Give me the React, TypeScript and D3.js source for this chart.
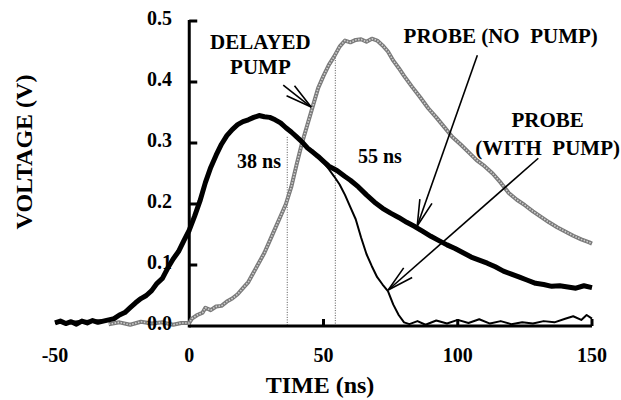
import React from "react";
import * as d3 from "d3";

const xTicks = [-50, 0, 50, 100, 150];
const yTicks = [0.0, 0.1, 0.2, 0.3, 0.4, 0.5];

// Probe (no pump) – thick black trace [time ns, voltage V]
const probeNoPump: [number, number][] = [
  [-50, 0.005], [-48, 0.008], [-46, 0.004], [-44, 0.007], [-42, 0.003], [-40, 0.008], [-38, 0.005],
  [-36, 0.009], [-34, 0.006], [-32, 0.008], [-30, 0.01], [-28, 0.012], [-26, 0.018], [-24, 0.022],
  [-22, 0.03], [-20, 0.038], [-18, 0.045], [-16, 0.05], [-14, 0.058], [-12, 0.07], [-10, 0.078],
  [-8, 0.095], [-6, 0.11], [-4, 0.122], [-2, 0.14], [0, 0.157], [2, 0.18], [4, 0.205], [6, 0.235],
  [8, 0.26], [10, 0.28], [12, 0.298], [14, 0.312], [16, 0.322], [18, 0.33], [20, 0.335], [22, 0.338],
  [24, 0.342], [26, 0.345], [28, 0.343], [30, 0.342], [32, 0.338], [34, 0.333], [36, 0.325],
  [38, 0.318], [40, 0.31], [42, 0.302], [44, 0.292], [46, 0.285], [48, 0.278], [50, 0.27],
  [52, 0.262], [55, 0.255], [58, 0.245], [60, 0.239], [63, 0.228], [66, 0.215], [69, 0.203],
  [72, 0.193], [75, 0.185], [78, 0.178], [81, 0.17], [84, 0.163], [87, 0.155], [90, 0.147],
  [93, 0.14], [96, 0.133], [99, 0.127], [102, 0.12], [105, 0.113], [108, 0.108], [111, 0.103],
  [114, 0.097], [117, 0.09], [120, 0.085], [123, 0.08], [126, 0.075], [129, 0.07], [132, 0.068],
  [135, 0.065], [138, 0.066], [141, 0.064], [144, 0.062], [147, 0.066], [150, 0.063],
];

// Probe (with pump) – thin black trace
const probeWithPump: [number, number][] = [
  [-50, 0.005], [-40, 0.008], [-30, 0.01], [-26, 0.018], [-22, 0.03], [-18, 0.045], [-14, 0.058],
  [-10, 0.078], [-6, 0.11], [-2, 0.14], [0, 0.157], [4, 0.205], [8, 0.26], [12, 0.298], [16, 0.322],
  [20, 0.335], [24, 0.342], [28, 0.343], [32, 0.338], [36, 0.325], [40, 0.31], [44, 0.292],
  [46, 0.288], [48, 0.278], [50, 0.268], [52, 0.257], [54, 0.245], [56, 0.232], [58, 0.215],
  [60, 0.195], [62, 0.175], [64, 0.145], [66, 0.118], [68, 0.098], [70, 0.08], [72, 0.068],
  [74, 0.057], [76, 0.035], [78, 0.018], [80, 0.006], [82, 0.003], [85, 0.008], [88, 0.002],
  [92, 0.009], [96, 0.004], [100, 0.01], [104, 0.005], [108, 0.011], [112, 0.004], [116, 0.008],
  [120, 0.003], [124, 0.006], [128, 0.004], [132, 0.008], [136, 0.006], [140, 0.012], [143, 0.016],
  [146, 0.01], [148, 0.018], [150, 0.012],
];

// Delayed pump – gray trace
const delayedPump: [number, number][] = [
  [-30, 0.003], [-26, 0.006], [-22, 0.002], [-18, 0.007], [-14, 0.004], [-10, 0.006], [-6, 0.002],
  [-3, 0.005], [0, 0.005], [1, 0.012], [3, 0.018], [5, 0.022], [6, 0.03], [8, 0.026], [10, 0.032],
  [12, 0.033], [14, 0.04], [16, 0.045], [18, 0.052], [20, 0.062], [22, 0.072], [24, 0.088],
  [26, 0.104], [28, 0.12], [30, 0.14], [32, 0.16], [34, 0.18], [36, 0.2], [38, 0.228], [40, 0.265],
  [42, 0.3], [44, 0.33], [46, 0.36], [48, 0.39], [50, 0.41], [52, 0.428], [54, 0.442], [56, 0.458],
  [58, 0.468], [60, 0.465], [62, 0.469], [64, 0.47], [66, 0.466], [68, 0.471], [70, 0.468],
  [72, 0.46], [74, 0.45], [76, 0.435], [78, 0.423], [80, 0.41], [83, 0.392], [86, 0.375],
  [89, 0.357], [92, 0.342], [95, 0.326], [98, 0.31], [101, 0.298], [104, 0.285], [107, 0.272],
  [110, 0.262], [113, 0.25], [116, 0.235], [119, 0.218], [122, 0.207], [125, 0.198], [128, 0.188],
  [131, 0.179], [134, 0.17], [137, 0.162], [140, 0.155], [143, 0.148], [146, 0.142], [149, 0.137],
  [150, 0.135],
];

// dotted markers: [time, top voltage, label]
const markerTimes = [36.5, 54.4];
const markerTops = [0.31, 0.44];
const markerLabels = ["38 ns", "55 ns"];
const markerLabelPos: [number, number][] = [[26, 0.259], [71, 0.267]];

// annotation labels and arrows in data coordinates
const annotationLines = ["DELAYED", "PUMP", "PROBE (NO  PUMP)", "PROBE", "(WITH  PUMP)"];
const annotationPos: [number, number][] = [[26.5, 0.454], [26.5, 0.413], [116, 0.464], [133.5, 0.326], [133.5, 0.28]];
const arrowFrom: [number, number][] = [[35, 0.395], [107.3, 0.444], [130, 0.275]];
const arrowTo: [number, number][] = [[45.4, 0.359], [84.9, 0.164], [74.1, 0.059]];

export default function App() {
  const W = 621, H = 400;
  const x = d3.scaleLinear().domain([-50, 150]).range([55, 592]);
  const y = d3.scaleLinear().domain([0, 0.5]).range([326, 21]);
  const line = d3.line<[number, number]>().x(d => x(d[0])).y(d => y(d[1])).curve(d3.curveLinear);
  const font = "Liberation Serif, DejaVu Serif, serif";

  const arrowHead = (from: [number, number], to: [number, number]) => {
    const x1 = x(from[0]), y1 = y(from[1]), x2 = x(to[0]), y2 = y(to[1]);
    const ang = Math.atan2(y2 - y1, x2 - x1);
    const len = 27, spread = 0.24;
    const a = [x2 - len * Math.cos(ang - spread), y2 - len * Math.sin(ang - spread)];
    const b = [x2 - len * Math.cos(ang + spread), y2 - len * Math.sin(ang + spread)];
    return `M${a[0]},${a[1]}L${x2},${y2}L${b[0]},${b[1]}`;
  };

  return (
    <svg width={W} height={H} style={{ position: "absolute", left: 0, top: 0, background: "#fff", fontFamily: font, fontWeight: 700 }}>
      {/* dotted markers */}
      {markerTimes.map((t, i) => (
        <line key={"m" + i} x1={x(t)} x2={x(t)} y1={y(markerTops[i])} y2={y(0)}
          stroke="#555" strokeWidth={1} strokeDasharray="1 1.5" />
      ))}
      {/* axes */}
      <line x1={x(0)} x2={x(0)} y1={y(0.5) - 1} y2={y(0) + 1.5} stroke="#000" strokeWidth={3} />
      <line x1={x(0)} x2={x(150)} y1={y(0)} y2={y(0)} stroke="#000" strokeWidth={3} />
      {yTicks.filter(v => v > 0).map(v => (
        <line key={"yt" + v} x1={x(0)} x2={x(0) + 8} y1={y(v)} y2={y(v)} stroke="#000" strokeWidth={3} />
      ))}
      {xTicks.filter(t => t > 0).map(t => (
        <line key={"xt" + t} x1={x(t)} x2={x(t)} y1={y(0)} y2={y(0) - 7} stroke="#000" strokeWidth={3} />
      ))}
      {/* traces */}
      <path d={line(delayedPump) || ""} fill="none" stroke="#7a7a7a" strokeWidth={4} strokeLinejoin="round" />
      <path d={line(delayedPump) || ""} fill="none" stroke="#cfcfcf" strokeWidth={1.6} strokeDasharray="1.5 1.5" />
      <path d={line(probeNoPump) || ""} fill="none" stroke="#000" strokeWidth={5} strokeLinejoin="round" />
      <path d={line(probeWithPump) || ""} fill="none" stroke="#000" strokeWidth={2} strokeLinejoin="round" />
      {/* tick labels */}
      {yTicks.map(v => (
        <text key={"yl" + v} x={172} y={y(v) + 4} textAnchor="end" fontSize={20}>{v.toFixed(1)}</text>
      ))}
      {xTicks.map(t => (
        <text key={"xl" + t} x={x(t)} y={362} textAnchor="middle" fontSize={20}>{t}</text>
      ))}
      {/* axis titles */}
      <text x={320} y={393} textAnchor="middle" fontSize={24}>TIME (ns)</text>
      <text transform={`translate(32,152) rotate(-90)`} textAnchor="middle" fontSize={24}>VOLTAGE (V)</text>
      {/* marker labels */}
      {markerLabels.map((s, i) => (
        <text key={"ml" + i} x={x(markerLabelPos[i][0])} y={y(markerLabelPos[i][1])} textAnchor="middle" fontSize={20}>{s}</text>
      ))}
      {/* annotations */}
      {annotationLines.map((s, i) => (
        <text key={"an" + i} x={x(annotationPos[i][0])} y={y(annotationPos[i][1])} textAnchor="middle"
          fontSize={21} style={{ whiteSpace: "pre" }}>{s}</text>
      ))}
      {arrowFrom.map((f, i) => (
        <g key={"ar" + i} fill="none" stroke="#000" strokeWidth={1.6}>
          <line x1={x(f[0])} y1={y(f[1])} x2={x(arrowTo[i][0])} y2={y(arrowTo[i][1])} />
          <path d={arrowHead(f, arrowTo[i])} />
        </g>
      ))}
    </svg>
  );
}
